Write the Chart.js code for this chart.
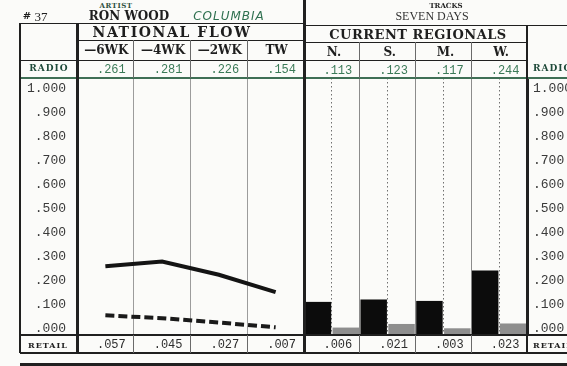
<!DOCTYPE html>
<html>
<head>
<meta charset="utf-8">
<script src="https://cdn.jsdelivr.net/npm/chart.js@4.4.1/dist/chart.umd.min.js"></script>
<style>
  html, body { margin: 0; padding: 0; background: #fbfbf9; }
  #sheet { position: relative; width: 567px; height: 366px; overflow: hidden; background: #fbfbf9; }
  #sheet canvas { position: absolute; }
  .t { position: absolute; white-space: nowrap; line-height: 1; transform: translate(-50%, -50%); }
  .l { position: absolute; white-space: nowrap; line-height: 1; transform: translateY(-50%); }
  .ln { position: absolute; }
  .head { font-family: 'DejaVu Serif', serif; font-weight: bold; color: #1e1e1e; }
  .num { font-family: 'Liberation Mono', monospace; font-size: 12px; }
</style>
</head>
<body>
<div id="sheet">
  <canvas id="flowChart" width="284" height="257" style="left:20px; top:78px"></canvas>
  <canvas id="regionChart" width="263" height="257" style="left:304px; top:78px"></canvas>
</div>
<script>
// National flow: radio (solid) and retail (dashed) over the last weeks
const flowLabels = ['—6WK', '—4WK', '—2WK', 'TW'];
const flowRadio = [0.261, 0.281, 0.226, 0.154];
const flowRetail = [0.057, 0.045, 0.027, 0.007];

// Current regionals: radio (black) and retail (grey) bars
const regionLabels = ['N.', 'S.', 'M.', 'W.'];
const regionRadio = [0.113, 0.123, 0.117, 0.244];
const regionRetail = [0.006, 0.021, 0.003, 0.023];

const yTicks = [0, 0.1, 0.2, 0.3, 0.4, 0.5, 0.6, 0.7, 0.8, 0.9, 1];

// scale range so that .000 and 1.000 sit inside the plot box
const Y_MIN = -0.025;
const Y_MAX = 1 + 11 / 240;

const fmt = v => v >= 1 ? v.toFixed(3) : v.toFixed(3).slice(1);

const sheet = document.getElementById('sheet');
const INK = '#202020';
const GREEN = '#3b7a58';

function put(cls, str, x, y, css) {
  const d = document.createElement('div');
  d.className = cls;
  d.textContent = str;
  d.style.left = x + 'px';
  d.style.top = y + 'px';
  Object.assign(d.style, css || {});
  sheet.appendChild(d);
}

function hline(x1, x2, y, w, color) {
  const d = document.createElement('div');
  d.className = 'ln';
  Object.assign(d.style, { left: x1 + 'px', width: (x2 - x1) + 'px', top: (y - w / 2) + 'px', height: w + 'px', background: color || INK });
  sheet.appendChild(d);
}

function vline(x, y1, y2, w, color) {
  const d = document.createElement('div');
  d.className = 'ln';
  Object.assign(d.style, { left: (x - w / 2) + 'px', width: w + 'px', top: y1 + 'px', height: (y2 - y1) + 'px', background: color || INK });
  sheet.appendChild(d);
}

// column edges shared by the table and the chart areas
const flowLeft = 77, flowRight = 304, regLeft = 304, regRight = 527;
const edges = (a, b, n) => Array.from({ length: n + 1 }, (_, i) => a + (b - a) * i / n);
const flowEdges = edges(flowLeft, flowRight, flowLabels.length);
const regEdges = edges(regLeft, regRight, regionLabels.length);
const mids = e => e.slice(1).map((x, i) => (x + e[i]) / 2);
const flowMid = mids(flowEdges);
const regMid = mids(regEdges);

const tickFont = { family: 'Liberation Mono', size: 13 };

const flowChart = new Chart(document.getElementById('flowChart'), {
  type: 'line',
  data: {
    labels: flowLabels,
    datasets: [
      { label: 'Radio', data: flowRadio, borderColor: '#141414', borderWidth: 4, pointRadius: 0, tension: 0 },
      { label: 'Retail', data: flowRetail, borderColor: '#1a1a1a', borderWidth: 4, borderDash: [9, 4], pointRadius: 0, tension: 0 }
    ]
  },
  options: {
    responsive: false,
    animation: false,
    layout: { padding: 0 },
    plugins: { legend: { display: false }, tooltip: { enabled: false } },
    scales: {
      x: {
        offset: true,
        grid: { offset: true, color: '#9c9c9c', lineWidth: 1, drawTicks: false },
        border: { display: false },
        ticks: { display: false },
        afterFit: s => { s.height = 0; s.paddingLeft = 0; s.paddingRight = 0; }
      },
      y: {
        min: Y_MIN,
        max: Y_MAX,
        afterBuildTicks: s => { s.ticks = yTicks.map(v => ({ value: v })); },
        ticks: { callback: v => fmt(v), font: tickFont, color: '#3a3a3a', padding: 11 },
        grid: { display: false, drawTicks: false },
        border: { color: INK, width: 3 },
        afterFit: s => { s.width = flowLeft - 20; s.paddingTop = 0; s.paddingBottom = 0; }
      }
    }
  }
});

const regionChart = new Chart(document.getElementById('regionChart'), {
  type: 'bar',
  data: {
    labels: regionLabels,
    datasets: [
      { label: 'Radio', data: regionRadio, backgroundColor: '#0c0c0c', base: Y_MIN },
      { label: 'Retail', data: regionRetail, backgroundColor: '#8e8e8e', base: Y_MIN }
    ]
  },
  options: {
    responsive: false,
    animation: false,
    layout: { padding: 0 },
    datasets: { bar: { categoryPercentage: 1, barPercentage: 0.95 } },
    plugins: { legend: { display: false }, tooltip: { enabled: false } },
    scales: {
      x: {
        offset: true,
        grid: { offset: true, color: '#8c8c8c', lineWidth: 1, drawTicks: false },
        border: { display: false },
        ticks: { display: false },
        afterFit: s => { s.height = 0; s.paddingLeft = 0; s.paddingRight = 0; }
      },
      // dotted centre line in each region column
      mid: {
        type: 'category',
        position: 'bottom',
        offset: true,
        grid: { offset: false, color: '#707070', lineWidth: 1, drawTicks: false },
        border: { display: false, dash: [1.5, 2.5] },
        ticks: { display: false },
        afterFit: s => { s.height = 0; s.paddingLeft = 0; s.paddingRight = 0; }
      },
      y: {
        position: 'right',
        min: Y_MIN,
        max: Y_MAX,
        afterBuildTicks: s => { s.ticks = yTicks.map(v => ({ value: v })); },
        ticks: { callback: v => fmt(v), font: tickFont, color: '#3a3a3a', padding: 6 },
        grid: { display: false, drawTicks: false },
        border: { color: INK, width: 3 },
        afterFit: s => { s.width = 567 - regRight; s.paddingTop = 0; s.paddingBottom = 0; }
      }
    }
  }
});

// --- table around the charts ---
hline(20, 304, 23, 1);
hline(304, 567, 25, 1);
hline(flowLeft, flowRight, 40, 1);
hline(regLeft, regRight, 42, 1);
hline(20, regRight, 60, 1);
hline(20, 567, 78, 1.5, '#3f6f55');
hline(20, 567, 335, 1.5);
hline(20, 567, 353, 2);
hline(20, 567, 364, 3);
vline(20, 23, 353, 1.5);
vline(flowLeft, 23, 353, 3);
vline(304, 0, 353, 3);
vline(regRight, 25, 353, 2.5);
flowEdges.slice(1, -1).forEach(x => { vline(x, 40, 78, 1, '#6a6a6a'); vline(x, 335, 353, 1, '#6a6a6a'); });
regEdges.slice(1, -1).forEach(x => { vline(x, 42, 78, 1, '#6a6a6a'); vline(x, 335, 353, 1, '#6a6a6a'); });

// title block
put('t head', 'ARTIST', 116, 5, { fontSize: '7px', color: '#2d5040', letterSpacing: '0.5px' });
put('t head', '#', 27, 16, { fontSize: '10px' });
put('t', '37', 41, 16, { fontFamily: 'Liberation Serif', fontSize: '13px', color: INK });
put('t head', 'RON WOOD', 129, 16, { fontSize: '12px' });
put('t', 'COLUMBIA', 229, 16, { fontFamily: 'DejaVu Sans', fontStyle: 'italic', fontSize: '12px', color: '#2f7050', letterSpacing: '1px' });
put('t head', 'TRACKS', 446, 5, { fontSize: '7px' });
put('t', 'SEVEN DAYS', 432, 16, { fontFamily: 'Liberation Serif', fontSize: '12px', color: '#333' });
put('t head', 'NATIONAL FLOW', 172, 32, { fontSize: '14px', letterSpacing: '1.6px' });
put('t head', 'CURRENT REGIONALS', 418, 34, { fontSize: '13px', letterSpacing: '0.5px' });

flowLabels.forEach((s, i) => put('t head', s, flowMid[i] + 1, 50, { fontSize: '12px' }));
regionLabels.forEach((s, i) => put('t head', s, regMid[i] + 2, 52, { fontSize: '12px' }));

// radio row
put('t head', 'RADIO', 49, 68, { fontSize: '9px', color: '#1f4a3a', letterSpacing: '1px' });
put('l head', 'RADIO', 533, 68, { fontSize: '9px', color: '#1f4a3a', letterSpacing: '1px' });
flowRadio.forEach((v, i) => put('t num', fmt(v), flowMid[i] + 6, 70, { color: GREEN }));
regionRadio.forEach((v, i) => put('t num', fmt(v), regMid[i] + 6, 71, { color: GREEN }));

// retail row
put('t head', 'RETAIL', 48, 345, { fontSize: '8px', letterSpacing: '1px' });
put('l head', 'RETAIL', 533, 345, { fontSize: '8px', letterSpacing: '1px' });
flowRetail.forEach((v, i) => put('t num', fmt(v), flowMid[i] + 6, 345, { color: '#2e2e2e' }));
regionRetail.forEach((v, i) => put('t num', fmt(v), regMid[i] + 6, 345, { color: '#2e2e2e' }));
</script>
</body>
</html>
